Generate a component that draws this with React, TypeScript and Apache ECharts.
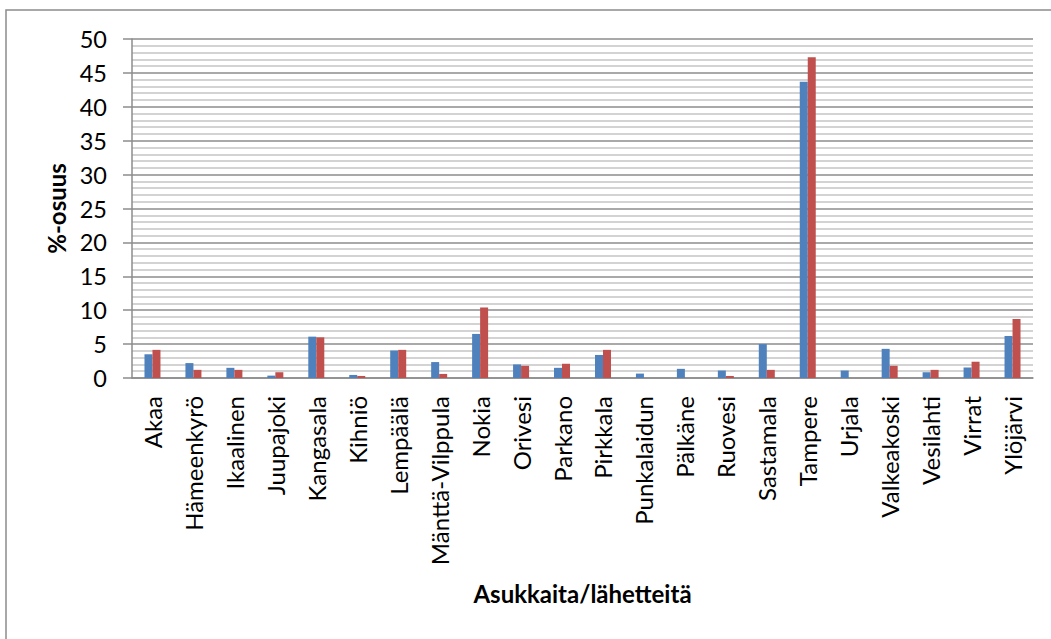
import React, { useEffect, useRef } from "react";
import * as echarts from "echarts";

const categories = [
  "Akaa", "Hämeenkyrö", "Ikaalinen", "Juupajoki", "Kangasala", "Kihniö", "Lempäälä",
  "Mänttä-Vilppula", "Nokia", "Orivesi", "Parkano", "Pirkkala", "Punkalaidun", "Pälkäne",
  "Ruovesi", "Sastamala", "Tampere", "Urjala", "Valkeakoski", "Vesilahti", "Virrat", "Ylöjärvi",
];
const asukkaita = [3.5, 2.2, 1.5, 0.35, 6.1, 0.45, 4.05, 2.35, 6.5, 2.0, 1.5, 3.4, 0.65, 1.35, 1.1, 5.0, 43.7, 1.1, 4.3, 0.85, 1.55, 6.2];
const lahetteita = [4.15, 1.2, 1.2, 0.85, 6.0, 0.3, 4.15, 0.6, 10.4, 1.8, 2.1, 4.15, 0, 0, 0.3, 1.2, 47.3, 0, 1.8, 1.2, 2.4, 8.7];

const FONT = "Lato, 'Open Sans', sans-serif";

export default function App() {
  const ref = useRef<HTMLDivElement>(null);
  useEffect(() => {
    if (!ref.current) return;
    const chart = echarts.init(ref.current, undefined, { renderer: "svg" });
    chart.setOption({
      animation: false,
      backgroundColor: "#ffffff",
      textStyle: { fontFamily: FONT },
      graphic: [
        {
          type: "rect",
          shape: { x: 6, y: 10, width: 1200, height: 800 },
          style: { fill: "none", stroke: "#8c8c8c", lineWidth: 1.5 },
          silent: true,
        },
      ],
      grid: { left: 132, right: 18, top: 39, bottom: 261 },
      xAxis: {
        type: "category",
        data: categories,
        axisLine: { show: true, lineStyle: { color: "#8c8c8c", width: 1.5 } },
        axisTick: { show: false },
        axisLabel: { rotate: 90, fontSize: 24, color: "#000", margin: 18, fontFamily: FONT, interval: 0 },
        name: "Asukkaita/lähetteitä",
        nameLocation: "middle",
        nameGap: 203,
        nameTextStyle: { fontSize: 24, fontWeight: "bold", color: "#000", fontFamily: FONT },
      },
      yAxis: {
        type: "value",
        min: 0,
        max: 50,
        interval: 5,
        axisLine: { show: true, lineStyle: { color: "#8c8c8c", width: 1.5 } },
        axisTick: { show: true, length: 9, lineStyle: { color: "#8c8c8c", width: 1.5 } },
        axisLabel: { fontSize: 23.5, color: "#000", margin: 25, fontFamily: FONT },
        splitLine: { show: true, lineStyle: { color: "#8c8c8c", width: 1.5 } },
        minorTick: { show: false, splitNumber: 5 },
        minorSplitLine: { show: true, lineStyle: { color: "#c4c4c4", width: 1.5 } },
        name: "%-osuus",
        nameLocation: "middle",
        nameGap: 64,
        nameRotate: 90,
        nameTextStyle: { fontSize: 24, fontWeight: "bold", color: "#000", fontFamily: FONT },
      },
      series: [
        {
          type: "bar",
          name: "Asukkaita",
          data: asukkaita,
          barWidth: 8,
          barGap: "0%",
          itemStyle: { color: "#4F81BD" },
        },
        {
          type: "bar",
          name: "Lähetteitä",
          data: lahetteita,
          barWidth: 8,
          barGap: "0%",
          itemStyle: { color: "#C0504D" },
        },
      ],
    });
    return () => chart.dispose();
  }, []);
  return (
    <div
      ref={ref}
      style={{ position: "fixed", left: 0, top: 0, width: 1051, height: 639, background: "#fff" }}
    />
  );
}
